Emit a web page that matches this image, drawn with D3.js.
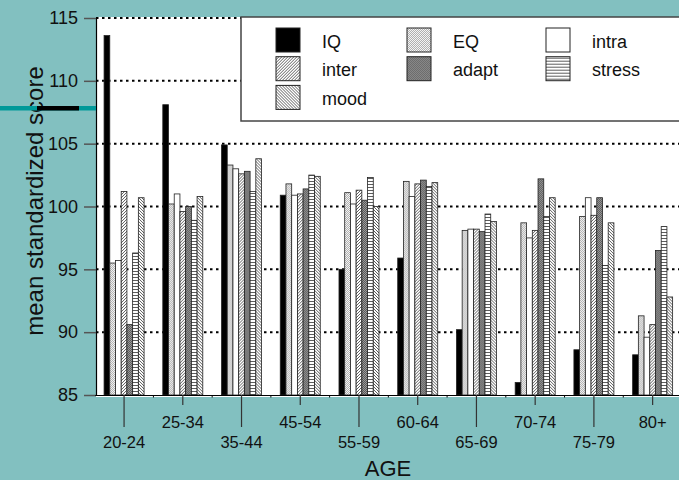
<!DOCTYPE html>
<html>
<head>
<meta charset="utf-8">
<script src="https://cdn.jsdelivr.net/npm/d3@7"></script>
<style>
  body { margin: 0; background: #82c0c0; }
  svg { display: block; font-family: "Liberation Sans", Arial, sans-serif; }
</style>
</head>
<body>
<svg id="chart"></svg>
<script>
const AGES = ["20-24", "25-34", "35-44", "45-54", "55-59", "60-64", "65-69", "70-74", "75-79", "80+"];
const SERIES = ["IQ", "EQ", "intra", "inter", "adapt", "stress", "mood"];
const Y_TICKS = [85, 90, 95, 100, 105, 110, 115];

// one array per series, one value per age group
const IQ     = [113.6, 108.1, 104.9, 100.9, 95.0, 95.9, 90.2, 86.0, 88.6, 88.2];
const EQ     = [95.5, 100.2, 103.3, 101.8, 101.1, 102.0, 98.1, 98.7, 99.2, 91.3];
const intra  = [95.7, 101.0, 103.0, 100.9, 100.2, 100.8, 98.2, 97.5, 100.7, 89.6];
const inter  = [101.2, 99.6, 102.6, 101.0, 101.3, 101.8, 98.2, 98.1, 99.3, 90.6];
const adapt  = [90.6, 100.0, 102.8, 101.4, 100.5, 102.1, 98.0, 102.2, 100.7, 96.5];
const stress = [96.3, 98.9, 101.2, 102.5, 102.3, 101.6, 99.4, 99.2, 95.3, 98.4];
const mood   = [100.7, 100.8, 103.8, 102.4, 100.0, 101.9, 98.8, 100.7, 98.7, 92.8];

const VALUES = { IQ, EQ, intra, inter, adapt, stress, mood };

const layout = {
  width: 679,
  height: 480,
  plot: { left: 96, top: 17, right: 682, bottom: 395 },
};

const svg = d3.select("#chart").attr("width", layout.width).attr("height", layout.height);
const pLeft = layout.plot.left, pTop = layout.plot.top;
const pRight = layout.plot.right, pBottom = layout.plot.bottom;

// patterns for the bar fills
const defs = svg.append("defs");
function linePattern(id, d, size) {
  const p = defs.append("pattern").attr("id", id).attr("patternUnits", "userSpaceOnUse")
    .attr("width", size).attr("height", size);
  p.append("rect").attr("width", size).attr("height", size).attr("fill", "#fff");
  p.append("path").attr("d", d).attr("stroke", "#333").attr("stroke-width", 0.8).attr("fill", "none");
}
function dotPattern(id, bg, dot) {
  const p = defs.append("pattern").attr("id", id).attr("patternUnits", "userSpaceOnUse")
    .attr("width", 2).attr("height", 2);
  p.append("rect").attr("width", 2).attr("height", 2).attr("fill", bg);
  p.append("rect").attr("width", 1).attr("height", 1).attr("fill", dot);
  p.append("rect").attr("x", 1).attr("y", 1).attr("width", 1).attr("height", 1).attr("fill", dot);
}
linePattern("p-inter", "M-1,1 L1,-1 M0,3 L3,0 M2,4 L4,2", 3);
linePattern("p-mood", "M-1,2 L1,4 M0,0 L3,3 M2,-1 L4,1", 3);
linePattern("p-stress", "M0,1.5 L3,1.5", 3);
dotPattern("p-eq", "#f4f4f4", "#b0b0b0");
dotPattern("p-adapt", "#9a9a9a", "#5a5a5a");

const fills = {
  IQ: "#000",
  EQ: "url(#p-eq)",
  intra: "#fff",
  inter: "url(#p-inter)",
  adapt: "url(#p-adapt)",
  stress: "url(#p-stress)",
  mood: "url(#p-mood)",
};

// plot background
svg.append("rect").attr("x", pLeft).attr("y", pTop)
  .attr("width", pRight - pLeft).attr("height", pBottom - pTop + 2).attr("fill", "#fff");

const x = d3.scaleBand().domain(AGES).range([pLeft - 1.3, pRight]);
const xInner = d3.scaleBand().domain(SERIES).range([-20, 20]);
const y = d3.scaleLinear().domain([85, 115]).range([pBottom, pTop + 1]);

// grid lines
svg.append("g").selectAll("line")
  .data(Y_TICKS.slice(1))
  .join("line")
  .attr("x1", pLeft).attr("x2", pRight)
  .attr("y1", (d) => y(d)).attr("y2", (d) => y(d))
  .attr("stroke", "#000").attr("stroke-width", 2)
  .attr("stroke-dasharray", "2.5,3.5");

// bars
const groups = svg.append("g").selectAll("g")
  .data(AGES)
  .join("g")
  .attr("transform", (d) => `translate(${x(d) + x.bandwidth() / 2},0)`);

groups.selectAll("rect")
  .data((age, i) => SERIES.map((s) => ({ s, v: VALUES[s][i] })))
  .join("rect")
  .attr("x", (d) => xInner(d.s))
  .attr("width", xInner.bandwidth())
  .attr("y", (d) => y(d.v))
  .attr("height", (d) => y(85) - y(d.v))
  .attr("fill", (d) => fills[d.s])
  .attr("stroke", "#222")
  .attr("stroke-width", 0.8);

// y axis
const yAxis = svg.append("g")
  .attr("transform", `translate(${pLeft},0)`)
  .call(d3.axisLeft(y).tickValues(Y_TICKS).tickSize(12).tickSizeOuter(0).tickPadding(6));
yAxis.select(".domain").attr("stroke", "#000").attr("stroke-width", 1.2);
yAxis.selectAll(".tick line").attr("stroke", "#555").attr("stroke-width", 1.5);
yAxis.selectAll(".tick text").attr("font-size", 18).attr("fill", "#111")
  .attr("font-family", "Liberation Sans, Arial, sans-serif");

// x axis with staggered labels
const xAxis = svg.append("g")
  .attr("transform", `translate(0,${pBottom})`)
  .call(d3.axisBottom(x).tickSize(10).tickSizeOuter(0));
xAxis.select(".domain").attr("stroke", "#000").attr("stroke-width", 1.2);
xAxis.selectAll(".tick line")
  .attr("stroke", "#333").attr("stroke-width", 1.2)
  .attr("y2", (d, i) => (i % 2 === 0 ? 32 : 10));
xAxis.selectAll(".tick text")
  .attr("font-size", 16.5).attr("fill", "#111")
  .attr("font-family", "Liberation Sans, Arial, sans-serif")
  .attr("dy", 0)
  .attr("y", (d, i) => (i % 2 === 0 ? 53 : 32.5));

// small marks between groups
xAxis.append("g").selectAll("line")
  .data(AGES.slice(1))
  .join("line")
  .attr("x1", (d) => x(d)).attr("x2", (d) => x(d))
  .attr("y1", 0).attr("y2", 2.5)
  .attr("stroke", "#000");

// axis titles
svg.append("text")
  .attr("text-anchor", "middle")
  .attr("transform", `translate(43, 201) rotate(270)`)
  .attr("font-size", 24)
  .attr("fill", "#111")
  .text("mean standardized score");

svg.append("text")
  .attr("x", 388).attr("y", 476)
  .attr("text-anchor", "middle")
  .attr("font-size", 22)
  .attr("fill", "#111")
  .text("AGE");

// stray marker on the left margin
svg.append("rect").attr("x", 0).attr("y", 106).attr("width", 96).attr("height", 4.5).attr("fill", "#009999");
svg.append("rect").attr("x", 37).attr("y", 106).attr("width", 42).attr("height", 4.5).attr("fill", "#000");

// legend
const legend = svg.append("g").attr("transform", "translate(241,17)");
legend.append("rect")
  .attr("width", 460).attr("height", 104)
  .attr("fill", "#fff").attr("stroke", "#444").attr("stroke-width", 1.5);

const cols = [35, 166, 305];
const items = legend.selectAll("g.item")
  .data(SERIES)
  .join("g")
  .attr("class", "item")
  .attr("transform", (d, i) => `translate(${cols[i % 3]},${11 + Math.floor(i / 3) * 28.7})`);
items.append("rect")
  .attr("width", 24).attr("height", 24)
  .attr("fill", (d) => fills[d])
  .attr("stroke", "#222").attr("stroke-width", 1);
items.append("text")
  .attr("x", 46).attr("y", 19.5)
  .attr("font-size", 18).attr("fill", "#111")
  .text((d) => d);
</script>
</body>
</html>
